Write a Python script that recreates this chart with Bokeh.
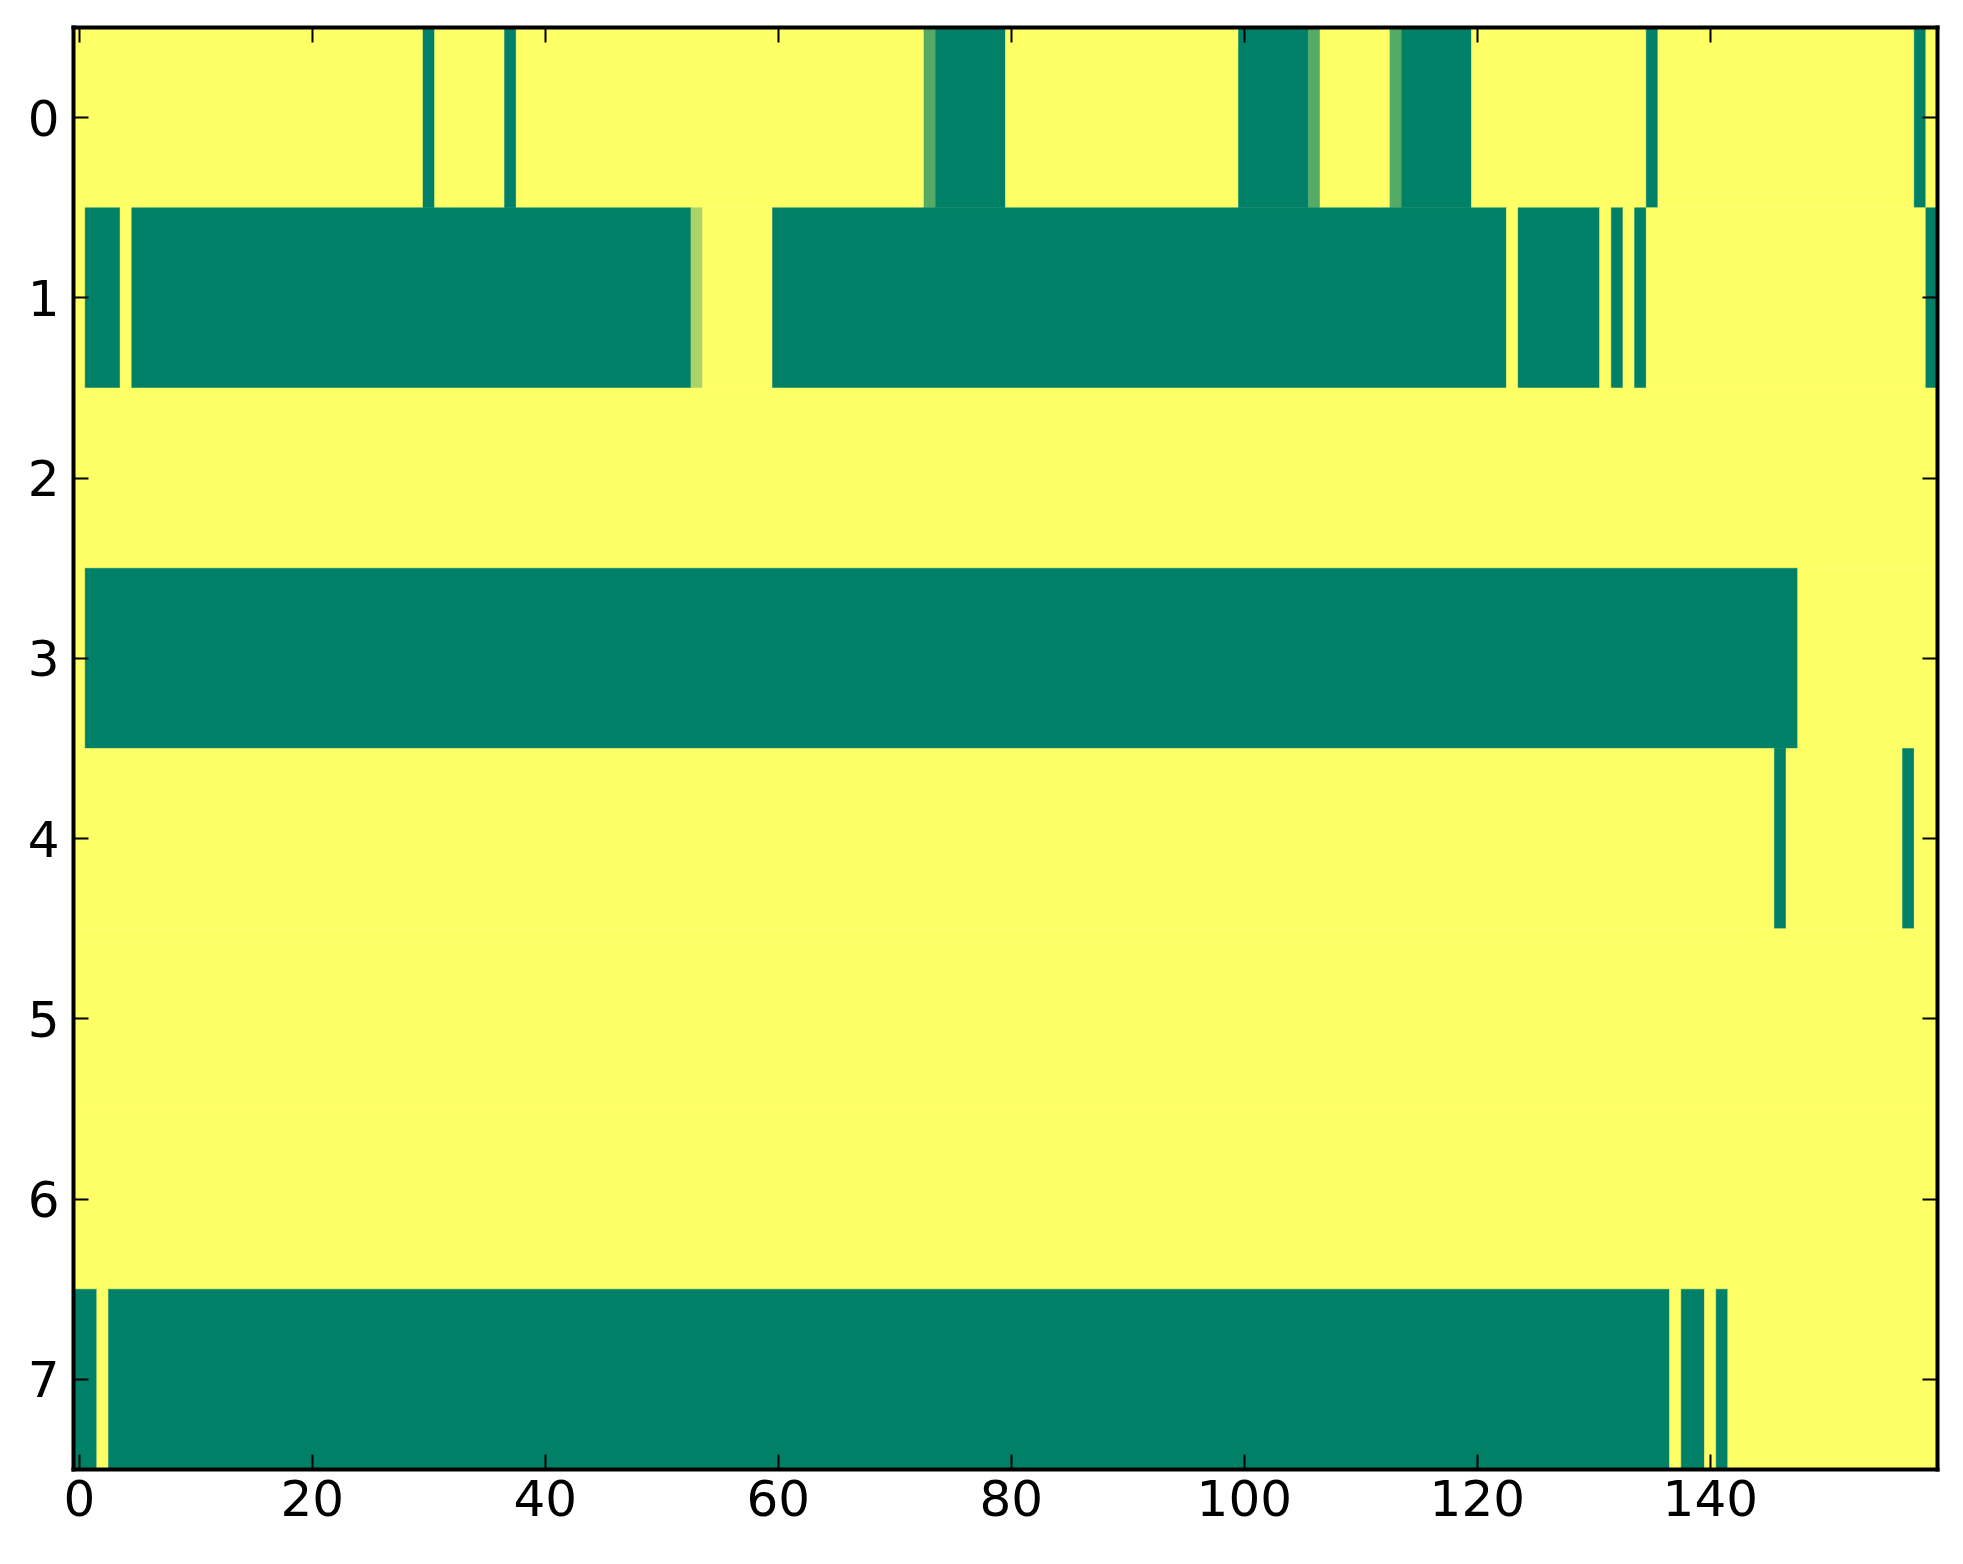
from bokeh.plotting import figure
from bokeh.models import Range1d, FixedTicker, LinearAxis, CustomJSTickFormatter, ColumnDataSource
from bokeh.embed import file_html
from bokeh.resources import INLINE

# Cell levels: 0 = dark green, 1 = mid green, 2 = light green, 3 = yellow
# Each row given as runs of (level, count), 160 columns per row
row_0 = [(3, 30), (0, 1), (3, 6), (0, 1), (3, 35), (1, 1), (0, 6), (3, 20), (0, 6), (1, 1),
         (3, 6), (1, 1), (0, 6), (3, 15), (0, 1), (3, 22), (0, 1), (3, 1)]
row_1 = [(3, 1), (0, 3), (3, 1), (0, 48), (2, 1), (3, 6), (0, 63), (3, 1), (0, 7), (3, 1),
         (0, 1), (3, 1), (0, 1), (3, 24), (0, 1)]
row_2 = [(3, 160)]
row_3 = [(3, 1), (0, 147), (3, 12)]
row_4 = [(3, 146), (0, 1), (3, 10), (0, 1), (3, 2)]
row_5 = [(3, 160)]
row_6 = [(3, 160)]
row_7 = [(0, 2), (3, 1), (0, 134), (3, 1), (0, 2), (3, 1), (0, 1), (3, 18)]
rows = [row_0, row_1, row_2, row_3, row_4, row_5, row_6, row_7]

# summer colormap sampled at 0, 1/3, 2/3, 1
level_colors = ["#008066", "#55AA66", "#AAD466", "#FFFF66"]

x_ticks = [0, 20, 40, 60, 80, 100, 120, 140]
y_ticks = [0, 1, 2, 3, 4, 5, 6, 7]
n_cols = 160

left, right, bottom, top, color = [], [], [], [], []
for r, runs in enumerate(rows):
    c = 0
    for lvl, cnt in runs:
        left.append(c - 0.5)
        right.append(c + cnt - 0.5)
        top.append(r - 0.5)
        bottom.append(r + 0.5)
        color.append(level_colors[lvl])
        c += cnt

src = ColumnDataSource(dict(left=left, right=right, top=top, bottom=bottom, color=color))

p = figure(
    width=1955, height=1556,
    frame_width=1864, frame_height=1442,
    x_range=Range1d(-0.5, n_cols - 0.5),
    y_range=Range1d(len(rows) - 0.5, -0.5),
    output_backend="svg", toolbar_location=None,
    min_border_left=73, min_border_top=27, min_border_right=18, min_border_bottom=87,
)
p.quad(left="left", right="right", top="top", bottom="bottom", fill_color="color",
       line_color="color", line_width=0.5, source=src)

p.xgrid.visible = False
p.ygrid.visible = False
p.outline_line_color = None
p.background_fill_color = "white"
p.border_fill_color = "white"

bottom_ax = p.below[0]
left_ax = p.left[0]
bottom_ax.ticker = FixedTicker(ticks=x_ticks)
left_ax.ticker = FixedTicker(ticks=y_ticks)

font = "DejaVu Sans"
blank = CustomJSTickFormatter(code="return ''")
top_ax = LinearAxis(ticker=FixedTicker(ticks=x_ticks), formatter=blank)
right_ax = LinearAxis(ticker=FixedTicker(ticks=y_ticks), formatter=blank)
p.add_layout(top_ax, "above")
p.add_layout(right_ax, "right")

for ax in [bottom_ax, left_ax, top_ax, right_ax]:
    ax.major_tick_in = 15
    ax.major_tick_out = 0
    ax.major_tick_line_width = 2
    ax.major_tick_line_color = "black"
    ax.minor_tick_line_color = None
    ax.axis_line_color = "black"
    ax.axis_line_width = 4
    ax.axis_line_cap = "square"

for ax in [bottom_ax, left_ax]:
    ax.major_label_text_font = font
    ax.major_label_text_font_size = "50px"
    ax.major_label_text_color = "black"
bottom_ax.major_label_standoff = 10
left_ax.major_label_standoff = 14

for ax in [top_ax, right_ax]:
    ax.major_label_standoff = 0
    ax.major_label_text_font_size = "10px"

open("out.html", "w").write(file_html(p, INLINE))
